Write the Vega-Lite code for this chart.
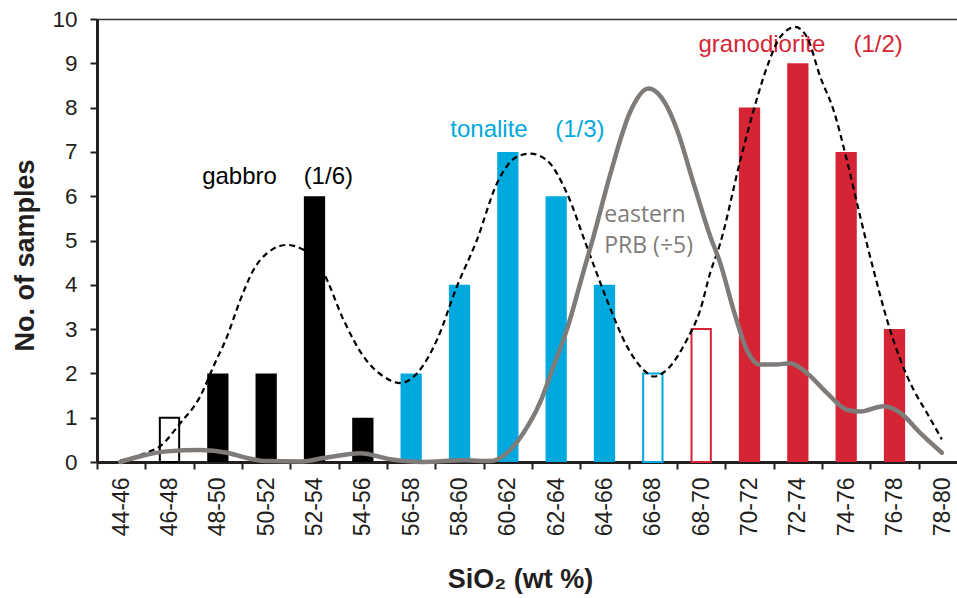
{
  "$schema": "https://vega.github.io/schema/vega-lite/v6.json",
  "width": 860,
  "height": 443,
  "autosize": {"type": "none"},
  "padding": {"left": 97, "top": 19, "right": 0, "bottom": 136},
  "background": "white",
  "config": {"view": {"stroke": null}, "font": "Liberation Sans"},
  "datasets": {
    "bars": [
      {"bin": "46-48", "n": 1, "group": "gabbro", "open": true},
      {"bin": "48-50", "n": 2, "group": "gabbro", "open": false},
      {"bin": "50-52", "n": 2, "group": "gabbro", "open": false},
      {"bin": "52-54", "n": 6, "group": "gabbro", "open": false},
      {"bin": "54-56", "n": 1, "group": "gabbro", "open": false},
      {"bin": "56-58", "n": 2, "group": "tonalite", "open": false},
      {"bin": "58-60", "n": 4, "group": "tonalite", "open": false},
      {"bin": "60-62", "n": 7, "group": "tonalite", "open": false},
      {"bin": "62-64", "n": 6, "group": "tonalite", "open": false},
      {"bin": "64-66", "n": 4, "group": "tonalite", "open": false},
      {"bin": "66-68", "n": 2, "group": "tonalite", "open": true},
      {"bin": "68-70", "n": 3, "group": "granodiorite", "open": true},
      {"bin": "70-72", "n": 8, "group": "granodiorite", "open": false},
      {"bin": "72-74", "n": 9, "group": "granodiorite", "open": false},
      {"bin": "74-76", "n": 7, "group": "granodiorite", "open": false},
      {"bin": "76-78", "n": 3, "group": "granodiorite", "open": false}
    ],
    "fit": [
      {"s": 44.96, "v": 0.03}, {"s": 46.0, "v": 0.2}, {"s": 46.62, "v": 0.36}, {"s": 47.45, "v": 0.88},
      {"s": 48.27, "v": 1.48}, {"s": 48.82, "v": 2.16}, {"s": 49.38, "v": 2.83}, {"s": 49.93, "v": 3.66},
      {"s": 50.48, "v": 4.34}, {"s": 51.03, "v": 4.71}, {"s": 51.86, "v": 4.9}, {"s": 52.55, "v": 4.79},
      {"s": 53.38, "v": 4.26}, {"s": 54.2, "v": 3.21}, {"s": 55.03, "v": 2.38}, {"s": 55.86, "v": 1.93},
      {"s": 56.55, "v": 1.78}, {"s": 57.24, "v": 2.0}, {"s": 58.07, "v": 2.76}, {"s": 58.89, "v": 3.96},
      {"s": 59.72, "v": 5.01}, {"s": 60.55, "v": 6.29}, {"s": 61.38, "v": 6.89}, {"s": 61.93, "v": 6.96},
      {"s": 62.62, "v": 6.81}, {"s": 63.45, "v": 6.06}, {"s": 64.27, "v": 4.86}, {"s": 65.1, "v": 3.66},
      {"s": 65.93, "v": 2.61}, {"s": 66.76, "v": 2.01}, {"s": 67.03, "v": 1.93}, {"s": 67.58, "v": 2.08},
      {"s": 68.41, "v": 2.76}, {"s": 68.96, "v": 3.43}, {"s": 69.37, "v": 4.26}, {"s": 69.79, "v": 4.94},
      {"s": 70.62, "v": 6.81}, {"s": 71.17, "v": 7.94}, {"s": 71.72, "v": 8.91}, {"s": 72.27, "v": 9.59},
      {"s": 72.89, "v": 9.82}, {"s": 73.38, "v": 9.59}, {"s": 73.93, "v": 8.69}, {"s": 74.48, "v": 7.94},
      {"s": 75.03, "v": 6.81}, {"s": 75.58, "v": 5.54}, {"s": 76.13, "v": 4.34}, {"s": 76.69, "v": 3.21},
      {"s": 77.24, "v": 2.31}, {"s": 77.79, "v": 1.63}, {"s": 78.34, "v": 1.11}, {"s": 78.96, "v": 0.51}
    ],
    "prb": [
      {"s": 44.96, "v": 0.0}, {"s": 45.79, "v": 0.13}, {"s": 46.9, "v": 0.24}, {"s": 48.27, "v": 0.27},
      {"s": 49.38, "v": 0.21}, {"s": 50.2, "v": 0.09}, {"s": 51.03, "v": 0.02}, {"s": 52.41, "v": 0.01},
      {"s": 53.38, "v": 0.09}, {"s": 54.9, "v": 0.2}, {"s": 56.14, "v": 0.06}, {"s": 57.51, "v": 0.0},
      {"s": 59.17, "v": 0.04}, {"s": 60.27, "v": 0.02}, {"s": 60.96, "v": 0.2}, {"s": 61.65, "v": 0.66},
      {"s": 62.34, "v": 1.35}, {"s": 62.89, "v": 2.16}, {"s": 63.45, "v": 3.0}, {"s": 64.13, "v": 4.3},
      {"s": 64.55, "v": 5.1}, {"s": 65.24, "v": 6.5}, {"s": 66.06, "v": 7.9}, {"s": 66.82, "v": 8.43},
      {"s": 67.51, "v": 8.1}, {"s": 68.0, "v": 7.5}, {"s": 68.68, "v": 6.3}, {"s": 69.37, "v": 5.1},
      {"s": 69.79, "v": 4.49}, {"s": 70.34, "v": 3.43}, {"s": 70.89, "v": 2.53}, {"s": 71.44, "v": 2.2},
      {"s": 72.1, "v": 2.2}, {"s": 72.68, "v": 2.23}, {"s": 73.37, "v": 2.01}, {"s": 74.2, "v": 1.56},
      {"s": 75.03, "v": 1.18}, {"s": 75.58, "v": 1.14}, {"s": 76.54, "v": 1.26}, {"s": 77.24, "v": 1.11},
      {"s": 78.06, "v": 0.66}, {"s": 78.96, "v": 0.21}
    ],
    "labels": [
      {"s": 48.35, "v": 6.27, "text": "gabbro", "group": "gabbro"},
      {"s": 52.55, "v": 6.27, "text": "(1/6)", "group": "gabbro"},
      {"s": 58.62, "v": 7.33, "text": "tonalite", "group": "tonalite"},
      {"s": 62.96, "v": 7.33, "text": "(1/3)", "group": "tonalite"},
      {"s": 68.89, "v": 9.26, "text": "granodiorite", "group": "granodiorite"},
      {"s": 75.3, "v": 9.26, "text": "(1/2)", "group": "granodiorite"}
    ],
    "prbLabels": [
      {"s": 64.99, "v": 5.42, "text": "eastern"},
      {"s": 64.99, "v": 4.71, "text": "PRB (÷5)"}
    ]
  },
  "layer": [
    {
      "data": {"name": "bars"},
      "layer": [
        {
          "transform": [{"filter": "!datum.open"}],
          "mark": {"type": "bar", "width": {"band": 0.44}},
          "encoding": {
            "x": {
              "field": "bin", "type": "nominal", "sort": null,
              "scale": {"domain": ["44-46","46-48","48-50","50-52","52-54","54-56","56-58","58-60","60-62","62-64","64-66","66-68","68-70","70-72","72-74","74-76","76-78","78-80"], "range": [0, 870], "paddingInner": 0, "paddingOuter": 0},
              "axis": {"title": "SiO₂ (wt %)", "titleFont": "Liberation Sans", "titleFontSize": 27, "titleFontWeight": "bold", "titleColor": "#231f20", "titleX": 423, "titleY": 125, "titleAlign": "center", "titleBaseline": "alphabetic", "labelAngle": 270, "labelFont": "Liberation Sans", "labelFontSize": 23, "labelColor": "#231f20", "labelPadding": 8, "tickBand": "extent", "tickSize": 7, "tickWidth": 2, "tickColor": "#231f20", "domainColor": "#231f20", "domainWidth": 3, "grid": false}
            },
            "y": {
              "field": "n", "type": "quantitative",
              "scale": {"domain": [0, 10], "nice": false},
              "axis": {"title": "No. of samples", "values": [0,1,2,3,4,5,6,7,8,9,10], "domainColor": "#231f20", "domainWidth": 3, "tickColor": "#231f20", "tickWidth": 2, "tickSize": 7, "labelFont": "Liberation Sans", "labelFontSize": 22.5, "labelColor": "#231f20", "labelPadding": 13, "titleFont": "Liberation Sans", "titleFontSize": 27, "titleFontWeight": "bold", "titleColor": "#231f20", "titleX": -64, "titleY": 236, "titleAngle": 270, "titleAlign": "center", "titleBaseline": "alphabetic", "grid": false}
            },
            "color": {"field": "group", "type": "nominal", "legend": null, "scale": {"domain": ["gabbro", "tonalite", "granodiorite"], "range": ["#000000", "#00a9dd", "#d52535"]}}
          }
        },
        {
          "transform": [{"filter": "datum.open"}],
          "mark": {"type": "bar", "width": {"band": 0.4}, "fill": "white", "strokeWidth": 2},
          "encoding": {
            "x": {
              "field": "bin", "type": "nominal", "sort": null,
              "scale": {"domain": ["44-46","46-48","48-50","50-52","52-54","54-56","56-58","58-60","60-62","62-64","64-66","66-68","68-70","70-72","72-74","74-76","76-78","78-80"], "range": [0, 870], "paddingInner": 0, "paddingOuter": 0},
              "axis": {"title": "SiO₂ (wt %)", "titleFont": "Liberation Sans", "titleFontSize": 27, "titleFontWeight": "bold", "titleColor": "#231f20", "titleX": 423, "titleY": 125, "titleAlign": "center", "titleBaseline": "alphabetic", "labelAngle": 270, "labelFont": "Liberation Sans", "labelFontSize": 23, "labelColor": "#231f20", "labelPadding": 8, "tickBand": "extent", "tickSize": 7, "tickWidth": 2, "tickColor": "#231f20", "domainColor": "#231f20", "domainWidth": 3, "grid": false}
            },
            "y": {
              "field": "n", "type": "quantitative",
              "scale": {"domain": [0, 10], "nice": false},
              "axis": {"title": "No. of samples", "values": [0,1,2,3,4,5,6,7,8,9,10], "domainColor": "#231f20", "domainWidth": 3, "tickColor": "#231f20", "tickWidth": 2, "tickSize": 7, "labelFont": "Liberation Sans", "labelFontSize": 22.5, "labelColor": "#231f20", "labelPadding": 13, "titleFont": "Liberation Sans", "titleFontSize": 27, "titleFontWeight": "bold", "titleColor": "#231f20", "titleX": -64, "titleY": 236, "titleAngle": 270, "titleAlign": "center", "titleBaseline": "alphabetic", "grid": false}
            },
            "stroke": {"field": "group", "type": "nominal", "legend": null, "scale": {"domain": ["gabbro", "tonalite", "granodiorite"], "range": ["#000000", "#00a9dd", "#d52535"]}}
          }
        }
      ]
    },
    {
      "layer": [
        {
          "data": {"name": "labels"},
          "mark": {"type": "text", "align": "left", "baseline": "alphabetic", "font": "Liberation Sans", "fontSize": 24},
          "encoding": {
            "x": {"field": "s", "type": "quantitative", "scale": {"domain": [44, 80], "range": [0, 870], "nice": false, "zero": false}, "axis": {"orient": "top", "labels": false, "ticks": false, "title": null, "grid": false, "domainColor": "#333333", "domainWidth": 1.5}},
            "y": {"field": "v", "type": "quantitative", "scale": {"domain": [0, 10], "nice": false}, "axis": {"title": "No. of samples", "values": [0,1,2,3,4,5,6,7,8,9,10], "domainColor": "#231f20", "domainWidth": 3, "tickColor": "#231f20", "tickWidth": 2, "tickSize": 7, "labelFont": "Liberation Sans", "labelFontSize": 22.5, "labelColor": "#231f20", "labelPadding": 13, "titleFont": "Liberation Sans", "titleFontSize": 27, "titleFontWeight": "bold", "titleColor": "#231f20", "titleX": -64, "titleY": 236, "titleAngle": 270, "titleAlign": "center", "titleBaseline": "alphabetic", "grid": false}},
            "text": {"field": "text"},
            "color": {"field": "group", "type": "nominal", "legend": null, "scale": {"domain": ["gabbro", "tonalite", "granodiorite"], "range": ["#000000", "#00a9dd", "#d52535"]}}
          }
        },
        {
          "data": {"name": "prbLabels"},
          "mark": {"type": "text", "align": "left", "baseline": "alphabetic", "font": "Open Sans", "fontSize": 23, "color": "#7f7b79"},
          "encoding": {
            "x": {"field": "s", "type": "quantitative", "scale": {"domain": [44, 80], "range": [0, 870], "nice": false, "zero": false}, "axis": {"orient": "top", "labels": false, "ticks": false, "title": null, "grid": false, "domainColor": "#333333", "domainWidth": 1.5}},
            "y": {"field": "v", "type": "quantitative", "scale": {"domain": [0, 10], "nice": false}, "axis": {"title": "No. of samples", "values": [0,1,2,3,4,5,6,7,8,9,10], "domainColor": "#231f20", "domainWidth": 3, "tickColor": "#231f20", "tickWidth": 2, "tickSize": 7, "labelFont": "Liberation Sans", "labelFontSize": 22.5, "labelColor": "#231f20", "labelPadding": 13, "titleFont": "Liberation Sans", "titleFontSize": 27, "titleFontWeight": "bold", "titleColor": "#231f20", "titleX": -64, "titleY": 236, "titleAngle": 270, "titleAlign": "center", "titleBaseline": "alphabetic", "grid": false}},
            "text": {"field": "text"}
          }
        },
        {
          "data": {"name": "fit"},
          "mark": {"type": "line", "color": "#000000", "strokeWidth": 2.2, "strokeDash": [6, 4], "interpolate": "monotone"},
          "encoding": {
            "x": {"field": "s", "type": "quantitative", "scale": {"domain": [44, 80], "range": [0, 870], "nice": false, "zero": false}, "axis": {"orient": "top", "labels": false, "ticks": false, "title": null, "grid": false, "domainColor": "#333333", "domainWidth": 1.5}},
            "y": {"field": "v", "type": "quantitative", "scale": {"domain": [0, 10], "nice": false}, "axis": {"title": "No. of samples", "values": [0,1,2,3,4,5,6,7,8,9,10], "domainColor": "#231f20", "domainWidth": 3, "tickColor": "#231f20", "tickWidth": 2, "tickSize": 7, "labelFont": "Liberation Sans", "labelFontSize": 22.5, "labelColor": "#231f20", "labelPadding": 13, "titleFont": "Liberation Sans", "titleFontSize": 27, "titleFontWeight": "bold", "titleColor": "#231f20", "titleX": -64, "titleY": 236, "titleAngle": 270, "titleAlign": "center", "titleBaseline": "alphabetic", "grid": false}}
          }
        },
        {
          "data": {"name": "prb"},
          "mark": {"type": "line", "color": "#7f7b79", "strokeWidth": 4.5, "interpolate": "monotone", "strokeCap": "round"},
          "encoding": {
            "x": {"field": "s", "type": "quantitative", "scale": {"domain": [44, 80], "range": [0, 870], "nice": false, "zero": false}, "axis": {"orient": "top", "labels": false, "ticks": false, "title": null, "grid": false, "domainColor": "#333333", "domainWidth": 1.5}},
            "y": {"field": "v", "type": "quantitative", "scale": {"domain": [0, 10], "nice": false}, "axis": {"title": "No. of samples", "values": [0,1,2,3,4,5,6,7,8,9,10], "domainColor": "#231f20", "domainWidth": 3, "tickColor": "#231f20", "tickWidth": 2, "tickSize": 7, "labelFont": "Liberation Sans", "labelFontSize": 22.5, "labelColor": "#231f20", "labelPadding": 13, "titleFont": "Liberation Sans", "titleFontSize": 27, "titleFontWeight": "bold", "titleColor": "#231f20", "titleX": -64, "titleY": 236, "titleAngle": 270, "titleAlign": "center", "titleBaseline": "alphabetic", "grid": false}}
          }
        }
      ]
    }
  ],
  "resolve": {"scale": {"x": "independent"}, "axis": {"x": "independent"}}
}
